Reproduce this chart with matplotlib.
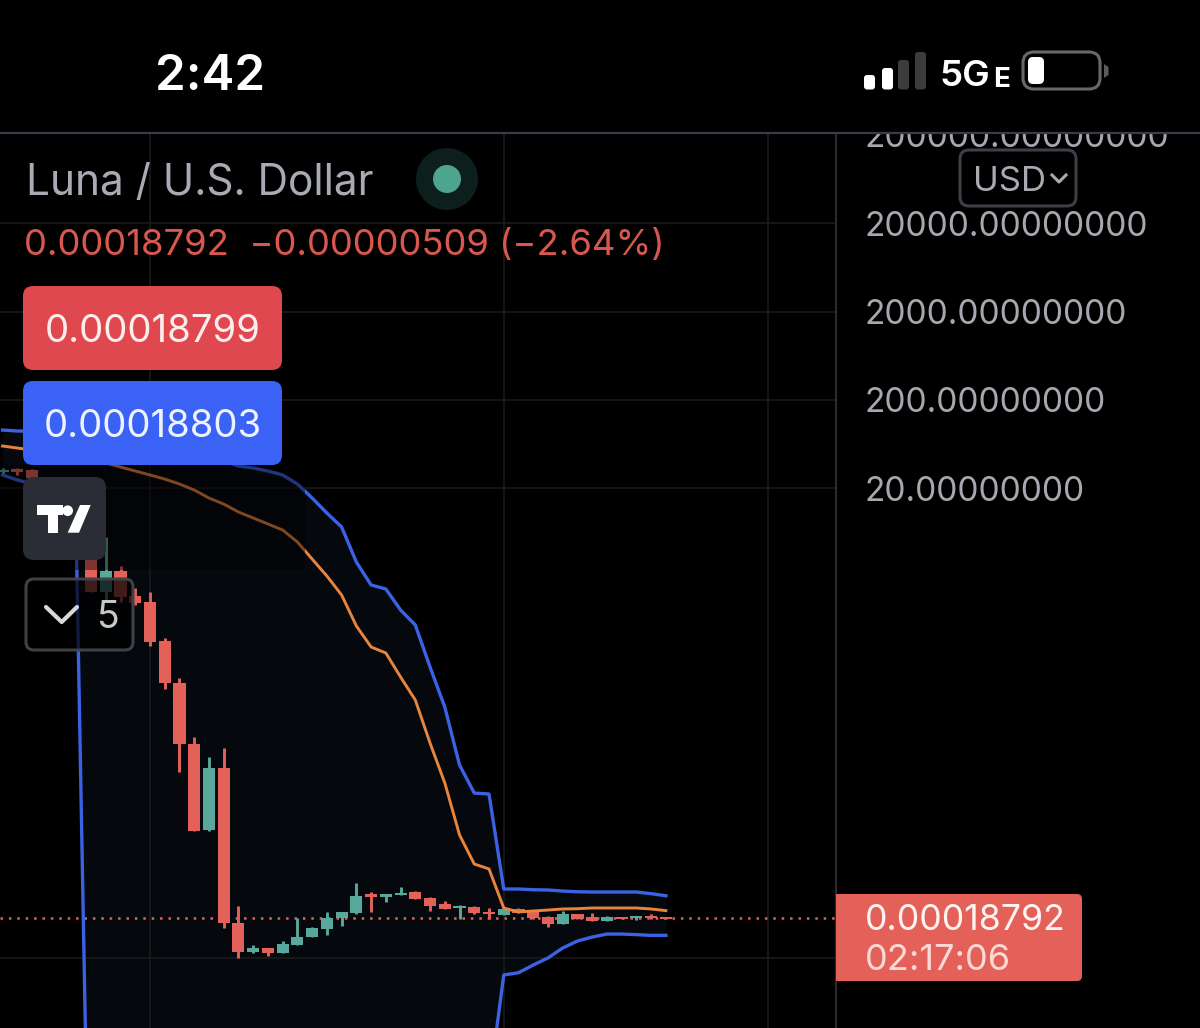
#!/usr/bin/env python3
"""Phone screenshot of a Luna / USD candle chart with Bollinger bands on a log price scale."""

import numpy as np
import matplotlib
matplotlib.use("Agg")
import matplotlib.pyplot as plt
from matplotlib.patches import Circle, FancyBboxPatch, Polygon, Rectangle

W, H = 1200, 1028

# price data is kept as log10(price)
candle_index = list(range(-10, 36))
high_vals = [1.529, 1.529, 1.518, 1.416, 1.110, 0.883, 0.600, 0.747, 0.419, 0.170,
             0.125, -0.396, -0.849, -1.518, -1.744, -1.642, -3.431, -3.873, -3.907, -3.828,
             -3.567, -3.669, -3.499, -3.499, -3.171, -3.273, -3.296, -3.216, -3.262, -3.330,
             -3.375, -3.420, -3.431, -3.454, -3.443, -3.454, -3.488, -3.545, -3.488, -3.522,
             -3.511, -3.545, -3.556, -3.545, -3.522, -3.556]
low_vals = [1.461, 1.450, 1.416, 0.997, 0.770, 0.487, 0.125, 0.034, 0.011, -0.023,
            -0.487, -0.974, -1.914, -2.582, -2.582, -3.681, -4.020, -3.964, -3.998, -3.964,
            -3.873, -3.783, -3.760, -3.658, -3.522, -3.499, -3.386, -3.307, -3.352, -3.488,
            -3.465, -3.579, -3.522, -3.579, -3.533, -3.511, -3.579, -3.669, -3.635, -3.579,
            -3.601, -3.601, -3.579, -3.590, -3.579, -3.579]
open_vals = [1.484, 1.518, 1.506, 1.393, 1.053, 0.827, 0.544, 0.125, 0.362, 0.079,
             0.011, -0.430, -0.906, -1.597, -2.571, -1.869, -3.624, -3.952, -3.907, -3.964,
             -3.873, -3.783, -3.692, -3.567, -3.511, -3.296, -3.330, -3.307, -3.273, -3.341,
             -3.409, -3.454, -3.443, -3.499, -3.533, -3.465, -3.499, -3.556, -3.635, -3.522,
             -3.556, -3.601, -3.556, -3.567, -3.545, -3.556]
close_vals = [1.506, 1.484, 1.416, 1.053, 0.827, 0.544, 0.125, 0.362, 0.068, 0.000,
              -0.442, -0.906, -1.597, -2.582, -1.869, -3.624, -3.952, -3.907, -3.964, -3.862,
              -3.783, -3.681, -3.567, -3.499, -3.318, -3.330, -3.296, -3.284, -3.352, -3.431,
              -3.465, -3.431, -3.511, -3.522, -3.465, -3.511, -3.567, -3.635, -3.522, -3.579,
              -3.601, -3.556, -3.579, -3.545, -3.572, -3.579]

upper_band = [1.959, 1.948, 1.948, 1.937, 1.925, 1.903, 1.880, 1.857, 1.835, 1.812,
              1.778, 1.744, 1.710, 1.676, 1.642, 1.608, 1.552, 1.529, 1.495, 1.450,
              1.348, 1.189, 1.019, 0.861, 0.464, 0.204, 0.159, -0.079, -0.249, -0.725,
              -1.178, -1.835, -2.152, -2.163, -3.239, -3.239, -3.247, -3.250, -3.262, -3.270,
              -3.273, -3.273, -3.273, -3.273, -3.292, -3.315]
basis_band = [1.778, 1.755, 1.733, 1.710, 1.687, 1.653, 1.631, 1.586, 1.540, 1.495,
              1.450, 1.404, 1.348, 1.280, 1.189, 1.121, 1.031, 0.963, 0.895, 0.827,
              0.691, 0.498, 0.306, 0.091, -0.260, -0.498, -0.566, -0.838, -1.099, -1.586,
              -2.038, -2.627, -2.956, -3.012, -3.454, -3.499, -3.488, -3.477, -3.465, -3.462,
              -3.454, -3.454, -3.454, -3.454, -3.465, -3.484]
# the lower band runs far below the visible range in the middle of the chart
lower_band = [1.450, 1.393, 1.348, 1.223, 0.997, 0.713, -8.3, -8.3, -8.3, -8.3,
              -8.3, -8.3, -8.3, -8.3, -8.3, -8.3, -8.3, -8.3, -8.3, -8.3,
              -8.3, -8.3, -8.3, -8.3, -8.3, -8.3, -8.3, -8.3, -8.3, -8.3,
              -8.3, -8.3, -8.3, -5.481, -4.213, -4.187, -4.100, -4.020, -3.907, -3.828,
              -3.783, -3.749, -3.749, -3.756, -3.764, -3.764]

price_ticks = [200000, 20000, 2000, 200, 20]
price_tick_labels = ["200000.00000000", "20000.00000000", "2000.00000000", "200.00000000", "20.00000000"]
extra_grid_price = 0.0000955
grid_bars = [0, 24, 41.92]
last_price_level = -3.567

RED = "#e4615a"
GREEN = "#58a89b"
BLUE = "#3b62e2"
ORANGE = "#e8843c"
GRID = "#1a1a1c"
FONT = "Inter"

plt.rcParams["font.family"] = [FONT, "DejaVu Sans"]

fig = plt.figure(figsize=(W / 100, H / 100), dpi=100, facecolor="black")


# === PRICE CHART ===
ax = fig.add_axes([0, 0, 836 / W, (H - 133) / H], facecolor="black")
ax.set_xlim(-10.176, 46.54)
ax.set_ylim(-4.813, 5.323)

for bar in grid_bars:
    ax.axvline(bar, color=GRID, lw=1.2, zorder=2)
for price in price_ticks[1:] + [extra_grid_price]:
    ax.axhline(np.log10(price), color=GRID, lw=1.2, zorder=2)

ax.fill_between(candle_index, lower_band, upper_band, color="#05090d", lw=0, zorder=1)
ax.axhline(last_price_level, color=RED, lw=1.8, ls=(0, (1, 2.36)), zorder=3)

colors = [GREEN if c >= o else RED for o, c in zip(open_vals, close_vals)]
ax.vlines(candle_index, low_vals, high_vals, colors=colors, lw=2.1, zorder=4)
bottoms = np.minimum(open_vals, close_vals)
heights = np.abs(np.array(close_vals) - np.array(open_vals))
ax.bar(candle_index, heights, bottom=bottoms, width=0.82, color=colors, lw=0, zorder=4)

ax.plot(candle_index, lower_band, color=BLUE, lw=2.4, zorder=5)
ax.plot(candle_index, upper_band, color=BLUE, lw=2.4, zorder=5)
ax.plot(candle_index, basis_band, color=ORANGE, lw=2.1, zorder=5)

ax.set_xticks([])
ax.set_yticks(np.log10(price_ticks))
ax.set_yticklabels(price_tick_labels, fontsize=24.1, color="#a6a8b0")
ax.yaxis.tick_right()
ax.tick_params(axis="y", length=0, pad=20.5)
for name, spine in ax.spines.items():
    spine.set_visible(name == "right")
    spine.set_color("#2a2a2e")
    spine.set_linewidth(1.6)


# === SCREEN OVERLAY (pixel coordinates) ===
ui = fig.add_axes([0, 0, 1, 1], zorder=10)
ui.set_xlim(0, W)
ui.set_ylim(H, 0)
ui.axis("off")
ui.patch.set_alpha(0)


def round_box(x0, y0, x1, y1, r, **kw):
    ui.add_patch(FancyBboxPatch((x0 + r, y0 + r), x1 - x0 - 2 * r, y1 - y0 - 2 * r,
                                boxstyle=f"round,pad={r},rounding_size={r}", **kw))


# status bar, also hides the top of the first price label
ui.add_patch(Rectangle((0, 0), W, 132, color="black", lw=0))
ui.plot([0, W], [132.5, 132.5], color="#3a3a48", lw=1.6)
ui.text(155, 77, "2:42", color="white", fontsize=35.5, fontweight="semibold", va="center", ha="left")
for x0, top, col in [(864, 75, "white"), (882, 68, "white"), (898, 60, "#3c3c3c"), (915, 52, "#3c3c3c")]:
    round_box(x0, top, x0 + 11, 89.5, 3, fc=col, ec="none")
ui.text(940, 77, "5G", color="white", fontsize=26.5, fontweight="semibold", va="center", ha="left")
ui.text(993, 80, "E", color="white", fontsize=20, fontweight="bold", va="center", ha="left")
round_box(1023, 52, 1100, 89, 11, fc="black", ec="#686868", lw=2.2)
round_box(1028, 57, 1044, 84, 5, fc="white", ec="none")
ui.add_patch(Polygon([(1104, 64), (1108.5, 67), (1108.5, 75), (1104, 78)], fc="#5a5a5a", ec="none"))

# legend
ui.text(26, 183, "Luna / U.S. Dollar", color="#a8abb4", fontsize=30.5, va="center", ha="left")
ui.add_patch(Circle((447, 179), 31, fc="#0c1f1c", ec="none"))
ui.add_patch(Circle((447, 179), 14, fc="#4ea58d", ec="none"))
ui.text(24, 246, "0.00018792  \u22120.00000509 (\u22122.64%)", color="#d9574f", fontsize=26.3, va="center", ha="left")

# darkened band under the legend
ui.add_patch(Rectangle((0, 465), 305, 105, fc="black", alpha=0.45, lw=0))

round_box(23, 286, 282, 370, 10, fc="#e0484f", ec="none")
ui.text(153, 332, "0.00018799", color="#fdeeee", fontsize=27.6, va="center", ha="center")
round_box(23, 381, 282, 465, 10, fc="#3a62f5", ec="none")
ui.text(153, 427, "0.00018803", color="#eef2ff", fontsize=27.6, va="center", ha="center")

# logo tile
round_box(23, 477, 106, 560, 11, fc="#2a2c36", ec="none")
ui.add_patch(Polygon([(37, 505), (63, 505), (63, 515), (58, 515), (58, 532.7), (48, 532.7), (48, 515), (37, 515)],
                     fc="white", ec="none"))
ui.add_patch(Circle((67.7, 510.7), 5.3, fc="white", ec="none"))
ui.add_patch(Polygon([(90.7, 505), (79, 532.7), (67.7, 532.7), (80, 505)], fc="white", ec="none"))

# collapse button
round_box(26, 579, 133, 650, 8, fc=(0, 0, 0, 0.72), ec="#3f4146", lw=2.2)
ui.plot([46, 61.7, 77], [607, 622, 607], color="#d8d8d8", lw=3.0, solid_capstyle="round")
ui.text(107.5, 618, "5", color="#c8c8c8", fontsize=27, va="center", ha="center")

# currency button
round_box(960, 150, 1076, 206, 9, fc="black", ec="#3e3f47", lw=2.2)
ui.text(973, 182, "USD", color="#a8aab2", fontsize=25, va="center", ha="left")
ui.plot([1052, 1059, 1066], [175, 182, 175], color="#a8aab2", lw=2.2)

# last price tag
ui.add_patch(Rectangle((836, 894), 120, 87, fc=RED, lw=0))
round_box(900, 894, 1082, 981, 5, fc=RED, ec="none")
ui.text(865, 921, "0.00018792", color="#fff4f2", fontsize=25.7, va="center", ha="left")
ui.text(865, 961, "02:17:06", color="#fbd9d5", fontsize=26, va="center", ha="left")

fig.savefig("out.png", dpi=100, facecolor="black")
